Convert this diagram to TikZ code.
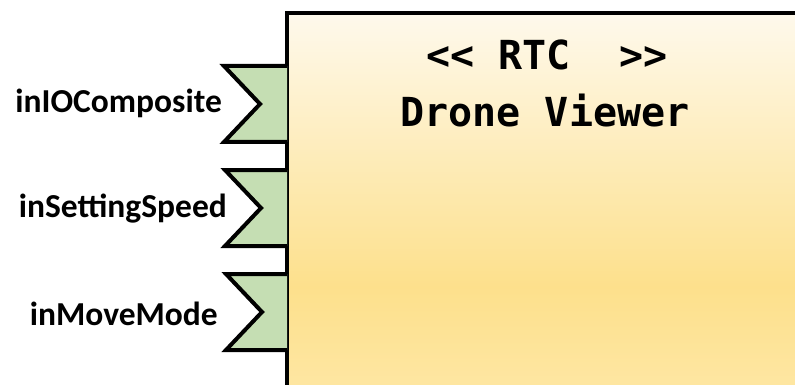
\documentclass[tikz,border=0pt]{standalone}
\usepackage{fontspec}
\setmainfont{Carlito}
\newfontfamily\titlefont{DejaVu Sans Mono}[Ligatures=TeXOff]
\usepackage{xcolor}

\definecolor{boxtop}{HTML}{FEF9EC}
\definecolor{boxmid}{HTML}{FDE08C}
\definecolor{boxbot}{HTML}{FFF1C8}
\definecolor{portgreen}{HTML}{C5DEB3}

\tikzset{
  port/.style={draw=black, fill=portgreen, line width=4pt, miter limit=10},
  portlabel/.style={font=\bfseries\fontsize{33.5}{36}\selectfont, inner sep=0pt, anchor=base east},
  titletext/.style={font=\titlefont\bfseries\fontsize{40}{44}\selectfont, inner sep=0pt, anchor=base}
}

\begin{document}
\begin{tikzpicture}[x=1pt, y=-1pt]

    \useasboundingbox (0,0) rectangle (795,385);
    \clip (0,0) rectangle (795,385);

    % Component body (runs off the page to the right and bottom)
    \shade[top color=boxtop, bottom color=boxbot, middle color=boxmid]
        (287,13) rectangle (830,560);
    \draw[line width=4pt] (287,560) -- (287,13) -- (830,13);

    % Titles
    \node[titletext] (stereo) at (547,70) {<<\ RTC\ \ >>};
    \node[titletext] (compname) at (545,127) {Drone Viewer};

    % In ports on the left side
    \draw[port] (287,66) -- (224,66) -- (260,104) -- (224,142) -- (287,142);
    \draw[port] (287,170) -- (225,170) -- (261,208) -- (225,246) -- (287,246);
    \draw[port] (287,274) -- (226,274) -- (262,312) -- (226,350) -- (287,350);

    % Port names
    \node[portlabel] (inIO) at (222,113) {inIOComposite};
    \node[portlabel] (inSpeed) at (227,217) {inSettingSpeed};
    \node[portlabel] (inMode) at (218,325) {inMoveMode};
\end{tikzpicture}
\end{document}
